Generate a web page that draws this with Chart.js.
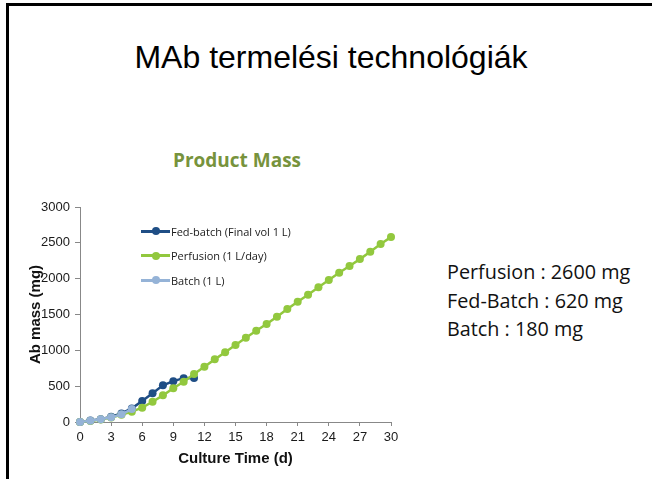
<!DOCTYPE html>
<html>
<head>
<meta charset="utf-8">
<script src="https://cdn.jsdelivr.net/npm/chart.js@4.4.1/dist/chart.umd.min.js"></script>
<style>
  body { margin: 0; background: #fff; width: 652px; height: 479px; position: relative; overflow: hidden; }
  .frame-top { position: absolute; left: 6px; top: 3px; width: 646px; height: 3px; background: #000; }
  .frame-left { position: absolute; left: 6px; top: 3px; width: 3px; height: 476px; background: #000; }
  h1 { position: absolute; left: 0; width: 662px; top: 39px; margin: 0; text-align: center;
       font: normal 32px "Liberation Sans", Arial, sans-serif; color: #000; }
  .chart-title { position: absolute; left: 137px; width: 200px; top: 147px; text-align: center;
                 font: bold 19px "Open Sans", sans-serif; color: #77933c; }
  #chartBox { position: absolute; left: 24px; top: 190px; width: 390px; height: 281px; }
  .legend { position: absolute; left: 141px; top: 219px; font: 11px "Open Sans", sans-serif; color: #1a1a1a; }
  .legend div { height: 24.5px; display: flex; align-items: center; }
  .legend .swatch { position: relative; width: 29px; height: 3px; margin-right: 1px; }
  .legend .swatch i { position: absolute; left: 11px; top: -2.5px; width: 8px; height: 8px; border-radius: 50%; }
  .notes { position: absolute; left: 447px; top: 258px; font: 19.8px "Open Sans", sans-serif; color: #111; line-height: 28.5px; }
</style>
</head>
<body>
<div class="frame-top"></div>
<div class="frame-left"></div>
<h1>MAb termelési technológiák</h1>
<div class="chart-title">Product Mass</div>
<div id="chartBox"><canvas id="massChart"></canvas></div>
<div class="legend" id="legend"></div>
<div class="notes">
  <div>Perfusion : 2600 mg</div>
  <div>Fed-Batch : 620 mg</div>
  <div>Batch : 180 mg</div>
</div>
<script>
// culture days
const fedBatchDays = [0, 1, 2, 3, 4, 5, 6, 7, 8, 9, 10, 11];
const fedBatchMass = [0, 20, 40, 75, 120, 190, 293, 400, 512, 570, 612, 615];

const perfusionDays = [0, 1, 2, 3, 4, 5, 6, 7, 8, 9, 10, 11, 12, 13, 14, 15, 16, 17, 18, 19, 20, 21, 22, 23, 24, 25, 26, 27, 28, 29, 30];
const perfusionMass = [0, 15, 35, 62, 100, 144, 200, 283, 372, 470, 562, 670, 771, 874, 972, 1074, 1176, 1274, 1367, 1470, 1576, 1678, 1776, 1879, 1981, 2083, 2176, 2273, 2375, 2483, 2580];

const batchDays = [0, 1, 2, 3, 4, 5];
const batchMass = [0, 18, 37, 65, 107, 180];

const seriesNames = ['Fed-batch (Final vol 1 L)', 'Perfusion (1 L/day)', 'Batch (1 L)'];
const seriesColors = ['#1f4e85', '#92c83e', '#95b3d7'];

function toPoints(days, mass) {
    return days.map((d, i) => ({ x: d, y: mass[i] }));
}

const seriesData = [
    toPoints(fedBatchDays, fedBatchMass),
    toPoints(perfusionDays, perfusionMass),
    toPoints(batchDays, batchMass)
];

const tickFont = { family: 'Liberation Sans', size: 13 };
const axisTitleFont = { family: 'Liberation Sans', size: 15, weight: 'bold' };

const ctx = document.getElementById('massChart').getContext('2d');
new Chart(ctx, {
    type: 'line',
    data: {
        datasets: seriesNames.map((name, i) => ({
            label: name,
            data: seriesData[i],
            borderColor: seriesColors[i],
            backgroundColor: seriesColors[i],
            borderWidth: 2.5,
            pointRadius: 4,
            pointBorderWidth: 0,
            pointHoverRadius: 4,
            tension: 0,
            fill: false,
            clip: false,
            order: 2 - i   // batch drawn on top
        }))
    },
    options: {
        responsive: true,
        maintainAspectRatio: false,
        animation: false,
        layout: { padding: { left: 0, right: 23, top: 17, bottom: 0 } },
        plugins: {
            legend: { display: false },
            tooltip: { enabled: false }
        },
        scales: {
            x: {
                type: 'linear',
                min: 0,
                max: 30,
                afterFit: s => { s.height = 49; },
                ticks: { stepSize: 3, color: '#1a1a1a', font: tickFont, padding: 4, maxRotation: 0 },
                grid: { drawOnChartArea: false, color: '#888', tickLength: 4 },
                border: { color: '#888' },
                title: { display: true, text: 'Culture Time (d)', color: '#111', font: axisTitleFont, padding: { top: 2, bottom: 3 } }
            },
            y: {
                min: 0,
                max: 3000,
                afterFit: s => { s.width = 56; },
                ticks: { stepSize: 500, color: '#1a1a1a', font: tickFont, padding: 5, callback: v => String(v) },
                grid: { drawOnChartArea: false, color: '#888', tickLength: 5 },
                border: { color: '#888' },
                title: { display: true, text: 'Ab mass (mg)', color: '#111', font: axisTitleFont, padding: { top: 3, bottom: 2 } }
            }
        }
    }
});

// legend inside the plot, like the spreadsheet original
const legendEl = document.getElementById('legend');
seriesNames.forEach((name, i) => {
    const row = document.createElement('div');
    const sw = document.createElement('span');
    sw.className = 'swatch';
    sw.style.background = seriesColors[i];
    const dot = document.createElement('i');
    dot.style.background = seriesColors[i];
    sw.appendChild(dot);
    row.appendChild(sw);
    row.appendChild(document.createTextNode(name));
    legendEl.appendChild(row);
});
</script>
</body>
</html>
